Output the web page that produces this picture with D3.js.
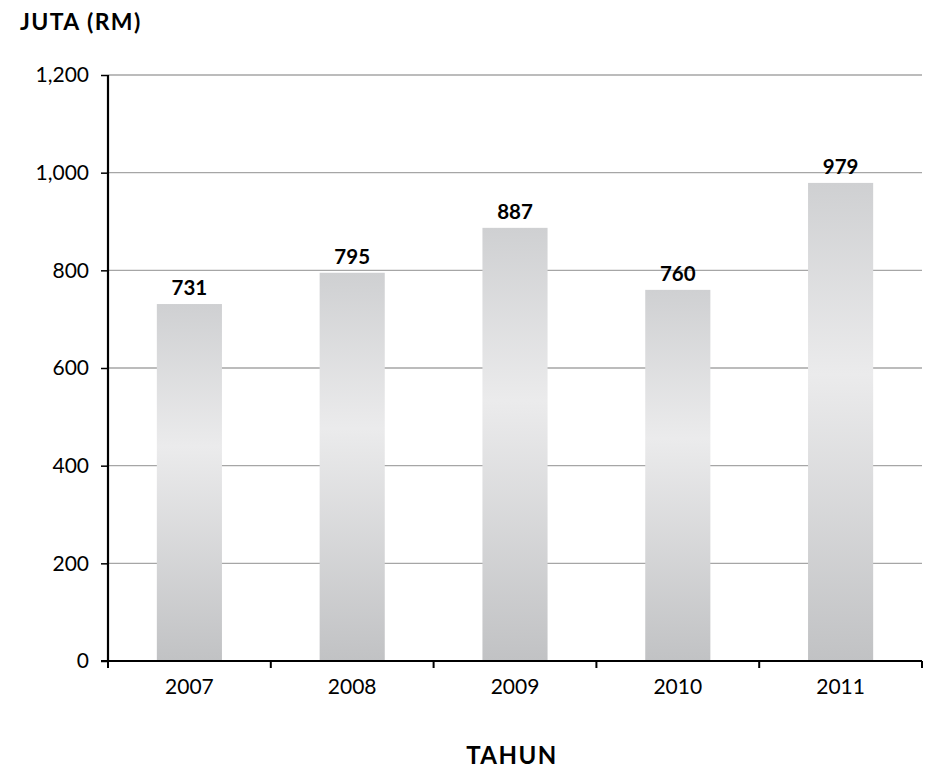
<!DOCTYPE html>
<html><head><meta charset="utf-8">
<script src="https://cdn.jsdelivr.net/npm/d3@7"></script>
<style>body{margin:0;background:#fff}svg{display:block}text{font-family:Lato,"Open Sans",sans-serif}</style>
</head><body>
<script>
const years = ["2007","2008","2009","2010","2011"];
const values = [731, 795, 887, 760, 979];
const yTicks = [0, 200, 400, 600, 800, 1000, 1200];
const yTitle = "JUTA (RM)";
const xTitle = "TAHUN";

const FONT = 'Lato,"Open Sans",sans-serif';
const W = 930, H = 773;
const m = {left:108, right:8, top:75, bottom:112};
const svg = d3.select("body").append("svg").attr("width", W).attr("height", H);
const defs = svg.append("defs");
const grad = defs.append("linearGradient").attr("id","barg").attr("x1",0).attr("y1",0).attr("x2",0).attr("y2",1);
grad.append("stop").attr("offset","0%").attr("stop-color","#cfd0d2");
grad.append("stop").attr("offset","40%").attr("stop-color","#ebebec");
grad.append("stop").attr("offset","100%").attr("stop-color","#c1c2c4");

const x = d3.scaleBand().domain(years).range([m.left, W - m.right]).paddingInner(0.6).paddingOuter(0.3);
const xb = d3.scaleBand().domain(years).range([m.left, W - m.right]);
const y = d3.scaleLinear().domain([0, 1200]).range([H - m.bottom, m.top]);

svg.append("g").selectAll("line").data(yTicks.filter(d => d > 0)).join("line")
  .attr("x1", m.left).attr("x2", W - m.right)
  .attr("y1", d => y(d)).attr("y2", d => y(d))
  .attr("stroke", "#a6a6a6").attr("stroke-width", 1.3);

svg.append("g").selectAll("rect").data(values).join("rect")
  .attr("x", (d,i) => x(years[i])).attr("width", x.bandwidth())
  .attr("y", d => y(d)).attr("height", d => y(0) - y(d))
  .attr("fill", "url(#barg)");

svg.append("g").selectAll("text").data(values).join("text")
  .attr("x", (d,i) => x(years[i]) + x.bandwidth()/2)
  .attr("y", d => y(d) - 9)
  .attr("text-anchor", "middle").style("font-size", "20.5px").attr("font-weight", "bold")
  .attr("fill", "#000").style("font-family", FONT)
  .text(d => d3.format(",")(d));

const yAxis = d3.axisLeft(y).tickValues(yTicks).tickFormat(d3.format(",")).tickSize(7).tickPadding(12);
const gy = svg.append("g").attr("transform", `translate(${m.left},0)`).call(yAxis);
gy.attr("font-size", null).attr("font-family", null);
gy.select(".domain").attr("stroke", "#000").attr("stroke-width", 2.2).attr("d", `M0,${m.top}V${H - m.bottom}`);
gy.selectAll(".tick line").attr("stroke", "#000").attr("stroke-width", 1.5);
gy.selectAll(".tick text").style("font-size", "21px").attr("fill", "#000").style("font-family", FONT);

const gx = svg.append("g").attr("transform", `translate(0,${H - m.bottom})`);
gx.append("line").attr("x1", m.left - 7).attr("x2", W - m.right).attr("stroke", "#000").attr("stroke-width", 2.2);
const bounds = years.map(d => xb(d)).concat([W - m.right]);
gx.selectAll("line.tk").data(bounds).join("line").attr("class","tk")
  .attr("x1", d => d).attr("x2", d => d).attr("y1", 0).attr("y2", 7)
  .attr("stroke", "#000").attr("stroke-width", 2);
gx.selectAll("text").data(years).join("text")
  .attr("x", d => xb(d) + xb.bandwidth()/2).attr("y", 33)
  .attr("text-anchor", "middle").style("font-size", "21px").attr("fill", "#000").style("font-family", FONT)
  .text(d => d);

svg.append("text").attr("x", 20).attr("y", 29.5).style("font-size", "23px").style("letter-spacing", "1.4px").attr("font-weight", "bold").style("font-family", FONT).text(yTitle);
svg.append("text").attr("x", 512).attr("y", 764).attr("text-anchor","middle").style("font-size", "24px").style("letter-spacing", "1.5px").attr("font-weight", "bold").style("font-family", FONT).text(xTitle);
</script>
</body></html>
